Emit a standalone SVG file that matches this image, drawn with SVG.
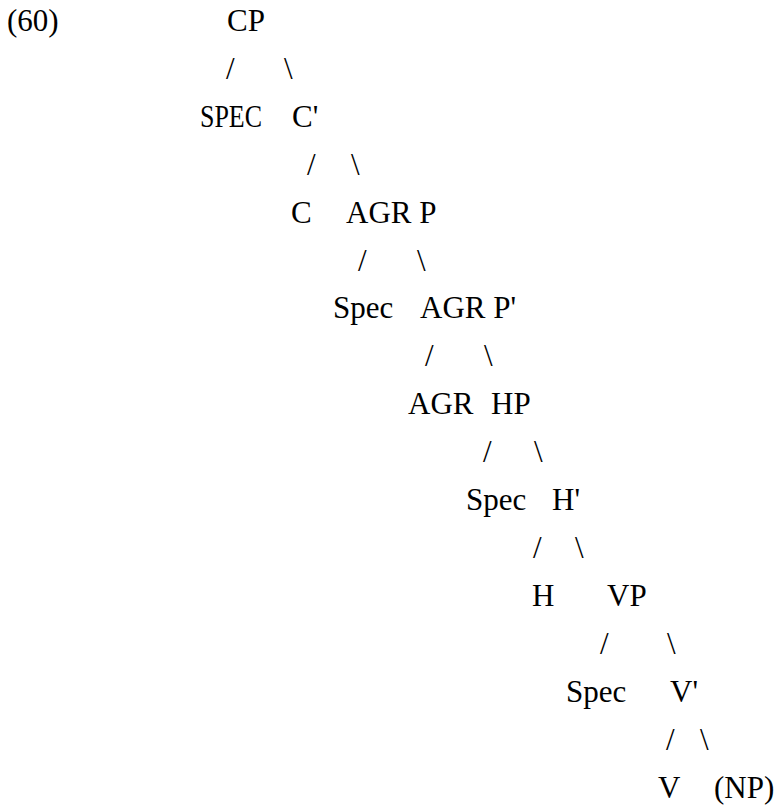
<svg xmlns="http://www.w3.org/2000/svg" width="777" height="806" viewBox="0 0 777 806">
<style>
text{font-family:"Liberation Serif","Times New Roman",serif;font-size:31px;fill:#000}
</style>
<rect width="777" height="806" fill="#fff"/>
<text id="label" x="7" y="31">(60)</text>
<g id="connectors">
<text x="226" y="79">/</text><text x="284" y="79">\</text>
<text x="307" y="175">/</text><text x="351" y="175">\</text>
<text x="358" y="271">/</text><text x="417" y="271">\</text>
<text x="425" y="366">/</text><text x="484" y="366">\</text>
<text x="483" y="462">/</text><text x="534" y="462">\</text>
<text x="533" y="558">/</text><text x="575" y="558">\</text>
<text x="600" y="654">/</text><text x="667" y="654">\</text>
<text x="666" y="750">/</text><text x="700" y="750">\</text>
</g>
<g id="n-CP"><text x="227" y="31">CP</text></g>
<g id="n-SPEC"><text x="200" y="127" textLength="62" lengthAdjust="spacingAndGlyphs">SPEC</text></g>
<g id="n-C1"><text x="292" y="127">C'</text></g>
<g id="n-C"><text x="291" y="223">C</text></g>
<g id="n-AGRP"><text x="346" y="223">AGR P</text></g>
<g id="n-Spec1"><text x="333" y="318">Spec</text></g>
<g id="n-AGRP1"><text x="420" y="318">AGR P'</text></g>
<g id="n-AGR"><text x="408" y="414">AGR</text></g>
<g id="n-HP"><text x="491" y="414">HP</text></g>
<g id="n-Spec2"><text x="466" y="510">Spec</text></g>
<g id="n-H1"><text x="552" y="510">H'</text></g>
<g id="n-H"><text x="532" y="606">H</text></g>
<g id="n-VP"><text x="607" y="606">VP</text></g>
<g id="n-Spec3"><text x="566" y="702">Spec</text></g>
<g id="n-V1"><text x="670" y="702">V'</text></g>
<g id="n-V"><text x="658" y="798">V</text></g>
<g id="n-NP"><text x="714" y="798">(NP)</text></g>
</svg>
